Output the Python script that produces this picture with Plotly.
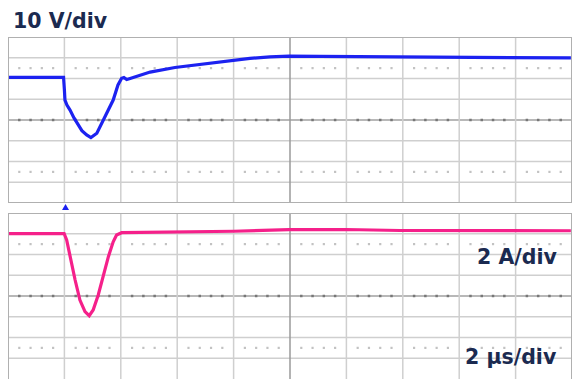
import numpy as np
import plotly.graph_objects as go

# Switch-node voltage (top channel, 10 V/div)
time_v_us = [0.0, 1.97, 2.00, 2.02, 2.09, 2.20, 2.34, 2.48, 2.62, 2.79, 2.94, 3.15,
             3.30, 3.44, 3.58, 3.73, 3.90, 4.03, 4.11, 4.21, 4.33, 4.56, 5.04, 5.92,
             6.81, 7.70, 8.58, 9.29, 9.96, 11.06, 13.90, 15.99, 18.16, 19.96]
volts = [20.5, 20.5, 14.5, 9.6, 7.2, 4.8, 1.0, -2.4, -5.1, -7.2, -8.5, -6.4,
         -2.4, 1.6, 5.8, 9.6, 16.9, 20.1, 20.5, 19.5, 20.0, 20.9, 23.1, 25.3,
         26.8, 28.4, 29.7, 30.4, 30.8, 30.7, 30.4, 30.4, 30.1, 29.9]

# Inductor current (bottom channel, 2 A/div)
time_i_us = [0.0, 1.99, 2.08, 2.15, 2.22, 2.38, 2.55, 2.73, 2.88, 3.02, 3.20, 3.38,
             3.56, 3.73, 3.85, 4.03, 4.68, 6.81, 8.01, 9.96, 11.99, 13.90, 15.99, 19.96]
amps = [6.02, 6.02, 5.40, 4.43, 3.47, 1.54, -0.39, -1.51, -1.90, -1.35, 0.10, 2.02,
        3.79, 5.23, 5.88, 6.10, 6.12, 6.17, 6.24, 6.39, 6.41, 6.31, 6.29, 6.29]

trigger_us = 2.04

V_DIV, A_DIV, T_DIV = 10, 2, 2
N_X, N_Y = 10, 4  # divisions across, half-divisions up/down

GRID = "#cfcfcf"
GRID_C = "#a0a0a0"
BORDER = "#b0b0b0"
DOT_DARK = "#777777"
DOT_LIGHT = "#c2c2c2"
NAVY = "#1b2a50"
BLUE = "#1c22f0"
PINK = "#f5208a"

TOP_DOMAIN = [0.5146, 1]
BOT_DOMAIN = [0, 0.4854]

fig = go.Figure()

shapes = []
panels = [("x", "y", V_DIV, True), ("x2", "y2", A_DIV, False)]
t_end = N_X * T_DIV
for xr, yr, ydiv, closed in panels:
    top, bot = N_Y * ydiv, -N_Y * ydiv
    # horizontal grid
    for k in range(-N_Y + 1, N_Y):
        shapes.append(dict(type="line", xref=xr, yref=yr, x0=0, x1=t_end,
                           y0=k * ydiv, y1=k * ydiv, layer="below",
                           line=dict(color=GRID_C if k == 0 else GRID, width=1.5)))
    # vertical grid
    for k in range(1, N_X):
        shapes.append(dict(type="line", xref=xr, yref=yr, x0=k * T_DIV, x1=k * T_DIV,
                           y0=bot, y1=top, layer="below",
                           line=dict(color="#9a9a9a" if k == N_X // 2 else GRID, width=1.5)))
    # frame
    if closed:
        path = f"M0,{bot} L0,{top} L{t_end},{top} L{t_end},{bot} Z"
    else:
        path = f"M0,{bot} L0,{top} L{t_end},{top} L{t_end},{bot}"
    shapes.append(dict(type="path", xref=xr, yref=yr, path=path, layer="above",
                       line=dict(color=BORDER, width=2)))

    # minor tick dots
    minor = np.arange(0, t_end + 1e-9, T_DIV / 5)
    minor = minor[(np.abs(minor / T_DIV - np.round(minor / T_DIV)) > 1e-6)]
    fig.add_trace(go.Scatter(x=minor, y=np.zeros_like(minor), xaxis=xr, yaxis=yr,
                             mode="markers", hoverinfo="skip",
                             marker=dict(symbol="square", size=2.5, color=DOT_DARK)))
    for lvl in (2.5, -2.5):
        fig.add_trace(go.Scatter(x=minor, y=np.full_like(minor, lvl * ydiv), xaxis=xr, yaxis=yr,
                                 mode="markers", hoverinfo="skip",
                                 marker=dict(symbol="square", size=2.2, color=DOT_LIGHT)))

# trigger position marker in the gap above the current panel
shapes.append(dict(type="path", xref="x", yref="paper", xsizemode="pixel", ysizemode="pixel",
                   xanchor=trigger_us, yanchor=BOT_DOMAIN[1],
                   path="M-3.5,3 L3.5,3 L0,9 Z", fillcolor=BLUE, line=dict(width=0),
                   layer="above"))

fig.add_trace(go.Scatter(x=time_v_us, y=volts, xaxis="x", yaxis="y", mode="lines",
                         line=dict(color=BLUE, width=3.2), hoverinfo="skip"))
fig.add_trace(go.Scatter(x=time_i_us, y=amps, xaxis="x2", yaxis="y2", mode="lines",
                         line=dict(color=PINK, width=3.2), hoverinfo="skip"))

axis_common = dict(showgrid=False, zeroline=False, showticklabels=False, ticks="",
                   showline=False, fixedrange=True)

fig.update_layout(
    width=578, height=379,
    margin=dict(l=8, r=6, t=37, b=0),
    paper_bgcolor="white", plot_bgcolor="white",
    showlegend=False,
    shapes=shapes,
    xaxis=dict(domain=[0, 1], range=[0, t_end], anchor="y", **axis_common),
    yaxis=dict(domain=TOP_DOMAIN, range=[-N_Y * V_DIV, N_Y * V_DIV], anchor="x", **axis_common),
    xaxis2=dict(domain=[0, 1], range=[0, t_end], anchor="y2", matches="x", **axis_common),
    yaxis2=dict(domain=BOT_DOMAIN, range=[-N_Y * A_DIV, N_Y * A_DIV], anchor="x2", **axis_common),
    font=dict(family="DejaVu Sans", color=NAVY),
)

label_font = dict(family="DejaVu Sans", size=20.5, color=NAVY)
fig.add_annotation(text="<b>10 V/div</b>", xref="paper", yref="paper", x=0.006, y=1.048,
                   xanchor="left", yanchor="middle", showarrow=False, font=label_font)
fig.add_annotation(text="<b>2 A/div</b>", xref="paper", yref="paper", x=0.977, y=0.357,
                   xanchor="right", yanchor="middle", showarrow=False, font=label_font)
fig.add_annotation(text="<b>2 µs/div</b>", xref="paper", yref="paper", x=0.977, y=0.063,
                   xanchor="right", yanchor="middle", showarrow=False, font=label_font)

fig.write_html("out.html")
